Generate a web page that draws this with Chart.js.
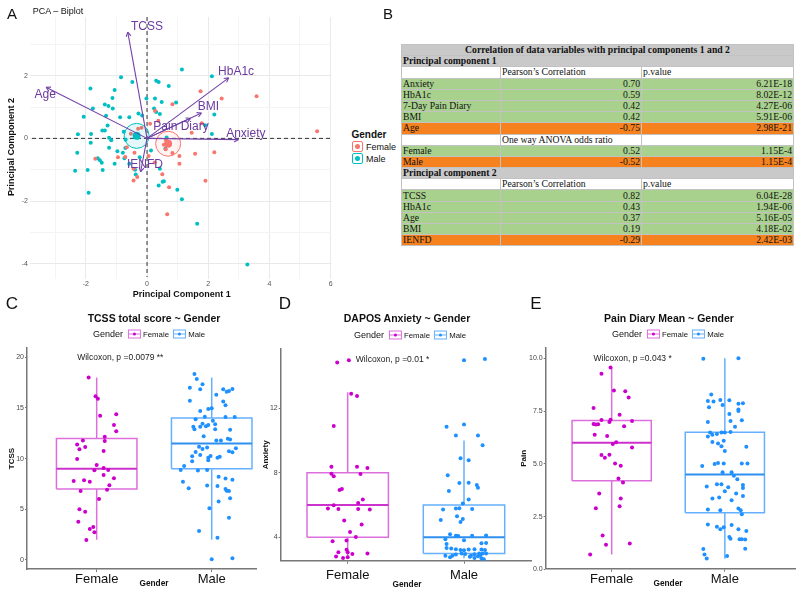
<!DOCTYPE html>
<html>
<head>
<meta charset="utf-8">
<script src="https://cdn.jsdelivr.net/npm/chart.js@4.4.1/dist/chart.umd.min.js"></script>
<style>
  body { margin:0; width:800px; height:594px; position:relative; background:#fff; overflow:hidden;
         font-family:"Liberation Sans", Arial, sans-serif; color:#111; }
  canvas { position:absolute; }
  .c { position:absolute; white-space:nowrap; transform:translate(-50%,-50%); line-height:1; }
  .let { font-size:17px; }
  .ttl { font-size:10.5px; font-weight:bold; }
  .axt { font-size:8.3px; font-weight:bold; }
  .leg { display:flex; align-items:center; font-size:7.8px; }
  .leg .g { font-size:9px; margin-right:3px; }
  .key { display:inline-block; width:11px; height:7px; border:1px solid; position:relative; margin:0 2px 0 2px; }
  .key i { position:absolute; left:4px; top:2px; width:3px; height:3px; border-radius:50%; }
  .key b { position:absolute; left:0; right:0; top:3px; height:1px; }
  .akey { display:inline-block; width:9px; height:9px; border:1px solid; border-radius:2px; position:relative; margin-right:3px; }
  .akey i { position:absolute; left:2px; top:2px; width:5px; height:5px; border-radius:50%; }
  #tbl { position:absolute; left:401px; top:44px; width:392px; border-collapse:collapse; table-layout:fixed;
         font-family:"Liberation Serif","Times New Roman",serif; font-size:9.7px; color:#111; }
  #tbl tr { height:11.2px; }
  #tbl td { padding:0 1px; line-height:10px; border:1px solid #c2c2c2; white-space:nowrap; overflow:hidden; }
</style>
</head>
<body>

<canvas id="pca" width="345" height="300" style="left:0;top:0"></canvas>
<canvas id="tcss" width="262" height="254" style="left:0;top:340px"></canvas>
<canvas id="anx" width="280" height="254" style="left:256px;top:340px"></canvas>
<canvas id="pain" width="284" height="254" style="left:516px;top:340px"></canvas>

<div class="c let" style="left:12px;top:13px;font-size:15px">A</div>
<div class="c let" style="left:388px;top:13px;font-size:15px">B</div>
<div class="c let" style="left:12px;top:303px">C</div>
<div class="c let" style="left:285px;top:303px">D</div>
<div class="c let" style="left:536px;top:303px">E</div>

<div class="c" style="left:58px;top:11px;font-size:9px">PCA – Biplot</div>

<div class="c" style="left:369px;top:135px;font-size:10px;font-weight:bold">Gender</div>
<div style="position:absolute;left:352px;top:141px;font-size:9px;display:flex;align-items:center">
  <span class="akey" style="border-color:#F8766D"><i style="background:#F8766D"></i></span>Female</div>
<div style="position:absolute;left:352px;top:153px;font-size:9px;display:flex;align-items:center">
  <span class="akey" style="border-color:#00BFC4"><i style="background:#00BFC4"></i></span>Male</div>

<table id="tbl"><colgroup><col style="width:99px"><col style="width:141px"><col style="width:152px"></colgroup><tbody id="tb"></tbody></table>

<div class="c ttl" style="left:154px;top:318px">TCSS total score ~ Gender</div>
<div class="c ttl" style="left:407px;top:318px">DAPOS Anxiety ~ Gender</div>
<div class="c ttl" style="left:669px;top:318px">Pain Diary Mean ~ Gender</div>

<div class="c leg" id="legC" style="left:149px;top:334px"></div>
<div class="c leg" id="legD" style="left:410px;top:335px"></div>
<div class="c leg" id="legE" style="left:668px;top:334px"></div>

<div class="c axt" style="left:154px;top:583px">Gender</div>
<div class="c axt" style="left:407px;top:584px">Gender</div>
<div class="c axt" style="left:668px;top:583px">Gender</div>

<script>
// ---------- Panel A: PCA scores ----------
const femalePC1 = [1.75, 2.44, 3.58, 0.83, 0.26, 0.37, 0.10, 1.79, 1.46, 5.56, -0.29, -0.53, -0.18, -0.66, 0.55, 0.61, 0.83, 1.06,
  1.57, 2.20, 0.05, -0.41, -1.69, -0.95, -0.71, 1.06, 0.25, 0.50, -0.44, -0.32, -0.44, 1.91, 0.72, 0.66, 0.72, 0.62];
const femalePC2 = [1.50, 1.27, 1.34, 1.09, 0.88, 0.56, 0.47, 0.48, 0.18, 0.23, 0.31, 0.15, 0.34, -0.28, -0.20, -0.35, -0.47, -0.56,
  -0.49, -0.44, -0.56, -0.46, -0.65, -0.60, -0.59, -0.81, -0.77, -1.14, -0.97, -1.23, -1.34, -1.35, -1.56, -2.42, -0.12, -0.06];
const malePC1 = [1.14, 2.12, -0.85, -0.48, 0.30, 0.38, 0.71, -1.85, -1.06, -1.13, -0.02, 0.26, 0.48, 0.95, -1.38, -1.26, -1.77, -1.12,
  0.23, 0.30, -0.28, 0.42, -0.16, 2.20, -2.07, -1.34, -0.88, -0.58, -1.29, 1.90, -1.46, -1.38, -0.76, -2.26, -1.83, 2.12, -1.24, -0.70,
  0.64, -1.84, -1.17, -0.40, -0.30, 0.13, 0.60, -2.28, -1.24, -0.97, -0.79, -0.71, -1.61, -1.54, -1.48, -1.06, -0.74, -0.58, -0.24,
  -0.39, -0.37, -2.35, -1.94, -1.45, -1.91, 0.42, 0.38, 0.51, 0.55, 0.99, 1.14, 1.64, 3.28];
const malePC2 = [2.20, 1.98, 1.95, 1.80, 1.84, 1.80, 1.67, 1.59, 1.54, 1.29, 1.27, 1.27, 1.16, 1.14, 1.08, 1.03, 0.95, 0.95,
  0.95, 0.84, 0.79, 0.78, 0.73, 0.76, 0.69, 0.72, 0.67, 0.67, 0.41, 0.42, 0.25, 0.25, 0.21, 0.13, 0.14, 0.14, 0.02, -0.04,
  0.03, -0.14, -0.06, 0.10, 0.02, -0.39, -0.33, -0.46, -0.30, -0.41, -0.46, -0.31, -0.63, -0.70, -0.78, -0.81, -0.63, -0.81, -0.60,
  -1.00, -1.15, -1.03, -1.01, -1.01, -1.73, -0.97, -1.50, -1.38, -1.37, -1.64, -1.94, -2.72, -4.02];
const centroidPC1 = [0.69, -0.34];   // Female, Male
const centroidPC2 = [-0.17, 0.08];

const loadingNames = ['TCSS', 'HbA1c', 'Age', 'BMI', 'Pain Diary', 'Anxiety', 'IENFD'];
const loadingPC1 = [-0.63, 2.67, -3.30, 1.78, 1.42, 2.99, -0.21];
const loadingPC2 = [3.39, 1.93, 1.63, 0.81, 0.64, -0.04, -1.07];

const pcaXTicks = [-3, -2, -1, 0, 1, 2, 3, 4, 5, 6];
const pcaYTicks = [-4, -3, -2, -1, 0, 1, 2, 3];

// ---------- Panel B: correlation table ----------
const pc1Vars = ['Anxiety', 'HbA1c', '7-Day Pain Diary', 'BMI', 'Age'];
const pc1Corr = [0.70, 0.59, 0.42, 0.42, -0.75];
const pc1P = ['6.21E-18', '8.02E-12', '4.27E-06', '5.91E-06', '2.98E-21'];
const genderVars = ['Female', 'Male'];
const genderOdds = [0.52, -0.52];
const genderP = ['1.15E-4', '1.15E-4'];
const pc2Vars = ['TCSS', 'HbA1c', 'Age', 'BMI', 'IENFD'];
const pc2Corr = [0.82, 0.43, 0.37, 0.19, -0.29];
const pc2P = ['6.04E-28', '1.94E-06', '5.16E-05', '4.18E-02', '2.42E-03'];

// ---------- Panels C-E: boxplots ----------
const genders = ['Female', 'Male'];

const tcssFemale = [18.0, 16.15, 15.9, 14.24, 14.38, 13.32, 12.7, 12.17, 11.74, 11.8, 11.4, 11.15, 10.92, 10.76, 9.97, 9.38, 9.08,
  8.88, 8.85, 8.39, 8.06, 7.8, 7.86, 7.73, 7.37, 6.94, 6.8, 6.02, 5.0, 4.77, 3.78, 3.26, 3.06, 2.73, 1.97];
const tcssFemaleJit = [-0.07, -0.01, 0.01, 0.03, 0.17, 0.15, 0.17, 0.07, 0.07, -0.12, -0.17, -0.10, -0.15, 0.06, -0.17, 0.00, 0.06,
  0.10, -0.02, 0.06, 0.15, -0.20, -0.11, -0.06, 0.11, 0.09, -0.14, 0.02, -0.15, -0.10, -0.16, -0.03, -0.06, -0.02, -0.09];
const tcssMale = [18.36, 17.86, 17.34, 17.0, 16.84, 16.84, 16.88, 16.68, 16.6, 16.3, 15.72, 15.63, 15.26, 14.9, 14.97, 14.7, 14.11,
  14.11, 14.14, 13.88, 13.75, 13.45, 13.16, 13.16, 13.2, 13.32, 13.39, 12.9, 12.86, 12.9, 12.2, 11.8, 11.8, 11.97, 11.9, 11.09, 11.02,
  10.72, 10.62, 11.18, 10.95, 10.65, 10.23, 10.36, 10.1, 10.25, 10.2, 10.1, 9.84, 9.75, 9.28, 8.88, 8.82, 8.88, 8.22, 8.03, 7.93,
  7.73, 7.34, 7.3, 7.07, 7.0, 6.84, 6.81, 6.09, 5.76, 5.1, 4.18, 2.86, 2.2, 0.07, 0.16];
const tcssMaleJit = [-0.15, -0.13, -0.08, -0.19, -0.10, 0.10, 0.18, 0.15, 0.13, 0.04, -0.19, 0.10, 0.12, -0.03, 0.00, -0.10, 0.20,
  0.12, -0.06, -0.14, 0.01, -0.08, -0.16, -0.10, -0.05, -0.03, 0.03, -0.15, 0.16, 0.03, -0.07, 0.04, 0.08, 0.14, 0.16, -0.04, 0.21,
  0.15, 0.18, -0.11, -0.08, -0.14, -0.17, -0.10, -0.03, -0.01, 0.07, 0.05, -0.03, -0.17, -0.24, -0.27, -0.12, -0.04, 0.06, 0.12, 0.18,
  -0.25, -0.04, 0.05, -0.20, 0.12, 0.13, 0.15, 0.16, 0.06, -0.02, 0.15, -0.11, 0.05, 0.00, 0.18];
const tcssFemaleBox = [2, 7, 9, 12, 18];      // lower whisker, Q1, median, Q3, upper whisker
const tcssMaleBox = [2, 9, 11.5, 14, 18];
const tcssTicks = [0, 5, 10, 15, 20];

const anxFemale = [14.85, 14.98, 12.91, 12.76, 10.9, 8.38, 8.38, 8.3, 7.95, 7.93, 7.79, 6.94, 7.0, 6.34, 6.13, 5.99, 5.78, 5.76,
  5.76, 5.72, 5.04, 4.79, 4.33, 4.02, 3.75, 3.81, 3.23, 3.08, 3.07, 2.97, 3.0, 2.81, 2.72, 2.76];
const anxFemaleJit = [-0.09, 0.01, 0.03, 0.08, -0.12, -0.14, 0.08, 0.17, -0.14, 0.11, -0.12, -0.07, -0.05, 0.13, 0.09, -0.12, -0.17,
  -0.08, 0.09, 0.19, -0.03, 0.12, 0.02, 0.07, -0.13, -0.01, -0.01, -0.08, 0.00, 0.04, 0.17, -0.10, -0.04, 0.00];
const anxMale = [14.98, 15.06, 10.86, 10.99, 10.31, 10.31, 9.71, 8.9, 8.78, 7.85, 7.37, 7.39, 7.25, 7.08, 6.88, 6.34, 6.09, 5.76,
  5.72, 5.78, 5.8, 5.31, 5.14, 5.08, 4.95, 4.19, 4.1, 4.08, 4.1, 3.88, 3.82, 4.12, 3.63, 3.65, 3.59, 3.3, 3.34, 3.26, 3.22, 3.2, 3.24,
  3.26, 3.25, 3.22, 2.95, 2.99, 3.0, 2.99, 2.97, 3.0, 2.93, 2.85, 2.85, 2.76, 2.8, 2.85, 2.72, 2.82, 2.7, 2.64, 2.9];
const anxMaleJit = [0.00, 0.18, -0.15, 0.00, -0.07, 0.12, 0.16, -0.03, 0.04, -0.14, -0.04, 0.04, 0.11, 0.12, -0.13, 0.04, -0.01, 0.07,
  -0.18, -0.07, -0.04, -0.06, -0.01, -0.20, -0.03, -0.12, -0.07, -0.05, 0.07, -0.16, 0.00, 0.19, 0.15, 0.19, -0.15, -0.11, -0.15,
  -0.07, -0.03, 0.00, 0.04, 0.09, 0.15, 0.18, 0.09, 0.13, 0.16, 0.19, 0.01, -0.02, -0.07, -0.10, -0.16, -0.12, 0.05, 0.06, 0.09, 0.12,
  0.15, 0.17, 0.14];
const anxFemaleBox = [2.8, 4, 6, 8, 13];
const anxMaleBox = [2.7, 3, 4, 6, 10];
const anxTicks = [4, 8, 12];

const painFemale = [9.57, 9.27, 8.48, 8.44, 8.14, 7.65, 7.33, 7.08, 7.09, 7.03, 6.98, 6.89, 6.87, 6.88, 6.78, 6.38, 6.32, 6.02, 5.94,
  5.77, 5.42, 5.43, 5.29, 5.01, 4.91, 4.3, 4.11, 3.59, 3.36, 2.99, 2.89, 1.6, 1.17, 1.22, 0.7];
const painFemaleJit = [-0.01, -0.09, 0.02, 0.12, 0.15, -0.16, 0.07, -0.09, -0.01, 0.18, -0.02, -0.16, -0.14, -0.12, 0.11, -0.15,
  -0.04, 0.04, 0.01, 0.18, -0.09, -0.02, -0.06, 0.03, 0.08, 0.06, 0.10, -0.11, 0.08, 0.07, -0.14, -0.08, -0.05, 0.16, -0.19];
const painMale = [9.98, 10.0, 8.29, 8.03, 8.01, 7.98, 7.96, 7.79, 7.68, 7.85, 7.87, 7.58, 7.5, 7.36, 7.06, 6.98, 7.03, 6.76, 6.48,
  6.41, 6.38, 6.29, 6.49, 6.48, 6.51, 6.03, 5.96, 6.1, 5.83, 5.61, 5.81, 4.9, 4.99, 5.04, 5.02, 5.02, 5.02, 4.6, 4.6, 4.44, 4.27, 4.0,
  3.93, 4.03, 4.03, 3.89, 3.85, 3.7, 3.59, 3.48, 3.36, 3.41, 3.27, 2.84, 2.8, 2.88, 2.8, 2.61, 2.12, 2.02, 1.99, 1.9, 2.1, 1.9, 1.82,
  1.53, 1.45, 1.42, 1.42, 1.41, 0.96, 0.98, 0.7, 0.51, 0.63];
const painMaleJit = [-0.19, 0.12, -0.12, -0.04, 0.04, -0.15, -0.10, -0.02, -0.14, 0.12, 0.16, 0.12, 0.12, 0.04, 0.15, -0.15, 0.05,
  0.09, -0.13, -0.07, -0.11, -0.15, -0.03, 0.00, 0.05, -0.11, -0.06, -0.01, -0.03, 0.00, 0.19, -0.20, -0.09, -0.06, -0.01, 0.15, 0.20,
  -0.02, 0.06, 0.08, 0.11, 0.16, -0.16, -0.07, -0.03, 0.03, 0.16, 0.00, 0.10, 0.16, -0.11, -0.05, 0.06, -0.15, -0.04, 0.12, 0.14, 0.15,
  -0.15, -0.07, -0.01, -0.04, 0.06, 0.12, 0.19, 0.04, 0.05, 0.13, 0.15, 0.18, -0.19, 0.18, -0.18, -0.16, 0.02];
const painFemaleBox = [0.7, 4.2, 6.0, 7.05, 9.55];
const painMaleBox = [0.5, 2.68, 4.5, 6.5, 10];
const painTicks = [0, 2.5, 5, 7.5, 10];

// ---------- styling ----------
Chart.defaults.font.family = '"Liberation Sans", Arial, sans-serif';
const RED = '#F8766D', TEAL = '#00BFC4', PURPLE = '#7442a8';
const F_PT = '#cc00cc', M_PT = '#1e90ff';
const F_LINE = '#dd6fdd', M_LINE = '#66b0ff';
const F_MID = '#cc33cc', M_MID = '#2f8fef';

// ---------- table ----------
const GREEN = '#a9d18e', ORANGE = '#f5821f', GREY = '#c9c9c9';
let html = '';
const band = (t, bold, center) => `<tr style="background:${GREY}"><td colspan="3" style="${bold ? 'font-weight:bold;' : ''}text-align:${center ? 'center' : 'left'}">${t}</td></tr>`;
const head = (a, b) => `<tr><td></td><td>${a}</td><td>${b}</td></tr>`;
const rows = (names, vals, ps) => names.map((n, i) =>
  `<tr style="background:${vals[i] >= 0 ? GREEN : ORANGE}"><td>${n}</td><td style="text-align:right">${vals[i].toFixed(2)}</td><td style="text-align:right">${ps[i]}</td></tr>`).join('');
html += band('Correlation of data variables with principal components 1 and 2', true, true);
html += band('Principal component 1', true, false);
html += head('Pearson’s Correlation', 'p.value');
html += rows(pc1Vars, pc1Corr, pc1P);
html += head('One way ANOVA odds ratio', '');
html += rows(genderVars, genderOdds, genderP);
html += band('Principal component 2', true, false);
html += head('Pearson’s Correlation', 'p.value');
html += rows(pc2Vars, pc2Corr, pc2P);
document.getElementById('tb').innerHTML = html;

// ---------- boxplot legends ----------
const legHtml = '<span class="g">Gender</span>' +
  `<span class="key" style="border-color:${F_LINE}"><b style="background:${F_LINE}"></b><i style="background:${F_PT}"></i></span>${genders[0]}&nbsp;` +
  `<span class="key" style="border-color:${M_LINE}"><b style="background:${M_LINE}"></b><i style="background:${M_PT}"></i></span>${genders[1]}`;
['legC', 'legD', 'legE'].forEach(id => document.getElementById(id).innerHTML = legHtml);

// ---------- panel A ----------
const biplotDecor = {
  id: 'biplotDecor',
  beforeDatasetsDraw(chart) {
    const { ctx, chartArea: a, scales: { x, y } } = chart;
    ctx.save();
    ctx.setLineDash([4, 3]);
    ctx.strokeStyle = '#333';
    ctx.lineWidth = 1;
    ctx.beginPath();
    ctx.moveTo(x.getPixelForValue(0), a.top); ctx.lineTo(x.getPixelForValue(0), a.bottom);
    ctx.moveTo(a.left, y.getPixelForValue(0)); ctx.lineTo(a.right, y.getPixelForValue(0));
    ctx.stroke();
    ctx.restore();
  },
  afterDatasetsDraw(chart, args, opts) {
    const { ctx, scales: { x, y } } = chart;
    ctx.save();
    ctx.strokeStyle = PURPLE;
    ctx.lineWidth = 1.1;
    chart.data.datasets.forEach((ds, di) => {
      if (!ds.arrow) return;
      const [p0, p1] = chart.getDatasetMeta(di).data;
      const ang = Math.atan2(p1.y - p0.y, p1.x - p0.x);
      ctx.beginPath();
      for (const s of [-0.5, 0.5]) {
        ctx.moveTo(p1.x, p1.y);
        ctx.lineTo(p1.x - 5 * Math.cos(ang + s), p1.y - 5 * Math.sin(ang + s));
      }
      ctx.stroke();
    });
    ctx.fillStyle = '#6a3a9e';
    ctx.font = '12px "Liberation Sans", Arial, sans-serif';
    ctx.textAlign = 'center';
    ctx.textBaseline = 'middle';
    loadingNames.forEach((n, i) => {
      ctx.fillText(n, x.getPixelForValue(opts.labelX[i]), y.getPixelForValue(opts.labelY[i]));
    });
    ctx.restore();
  }
};

const arrowSets = loadingNames.map((n, i) => ({
  label: n, arrow: true, showLine: true, pointRadius: 0, borderColor: PURPLE, borderWidth: 1.1,
  data: [{ x: 0, y: 0 }, { x: loadingPC1[i], y: loadingPC2[i] }]
}));

new Chart(document.getElementById('pca'), {
  type: 'scatter',
  data: {
    datasets: [
      ...arrowSets,
      { label: 'centroid', data: centroidPC1.map((v, i) => ({ x: v, y: centroidPC2[i] })),
        pointRadius: 4, backgroundColor: [RED, TEAL], borderWidth: 0 },
      { label: 'ellipse', data: centroidPC1.map((v, i) => ({ x: v, y: centroidPC2[i] })),
        pointRadius: 12.5, backgroundColor: ['rgba(248,118,109,0.08)', 'rgba(0,191,196,0.1)'], borderColor: [RED, TEAL], borderWidth: 1 },
      { label: 'Female', data: femalePC1.map((v, i) => ({ x: v, y: femalePC2[i] })), pointRadius: 2, backgroundColor: RED, borderWidth: 0 },
      { label: 'Male', data: malePC1.map((v, i) => ({ x: v, y: malePC2[i] })), pointRadius: 2, backgroundColor: TEAL, borderWidth: 0 }
    ]
  },
  options: {
    responsive: false, animation: false, events: [],
    layout: { padding: { top: 17, right: 5 } },
    plugins: {
      legend: { display: false }, tooltip: { enabled: false },
      biplotDecor: {
        labelX: [0.0, 2.91, -3.33, 2.01, 1.11, 3.23, -0.07],
        labelY: [3.57, 2.14, 1.39, 1.0, 0.36, 0.15, -0.84]
      }
    },
    scales: {
      x: {
        type: 'linear', min: -3.76, max: 6.03,
        afterBuildTicks: s => { s.ticks = pcaXTicks.map(v => ({ value: v })); },
        afterFit: s => { s.height = 23; },
        ticks: { callback: v => (v % 2 === 0 ? v : ''), font: { size: 7 }, color: '#555', padding: 1, autoSkip: false, maxRotation: 0 },
        grid: { color: c => (c.tick && c.tick.value % 2 ? '#f4f4f4' : '#e9e9e9'), tickLength: 2 },
        border: { display: false },
        title: { display: true, text: 'Principal Component 1', font: { size: 9, weight: 'bold' }, color: '#111', padding: { top: 0, bottom: 0 } }
      },
      y: {
        type: 'linear', min: -4.42, max: 3.87,
        afterBuildTicks: s => { s.ticks = pcaYTicks.map(v => ({ value: v })); },
        afterFit: s => { s.width = 32; },
        ticks: { callback: v => (v % 2 === 0 ? v : ''), font: { size: 7 }, color: '#555', padding: 2, autoSkip: false },
        grid: { color: c => (c.tick && c.tick.value % 2 ? '#f4f4f4' : '#e9e9e9'), tickLength: 2 },
        border: { display: false },
        title: { display: true, text: 'Principal Component 2', font: { size: 9, weight: 'bold' }, color: '#111', padding: { top: 6, bottom: 0 } }
      }
    }
  },
  plugins: [biplotDecor]
});

// ---------- panels C-E ----------
const noteText = {
  id: 'noteText',
  afterDatasetsDraw(chart, args, opts) {
    const { ctx, scales: { x, y } } = chart;
    ctx.save();
    ctx.font = '8.5px "Liberation Sans", Arial, sans-serif';
    ctx.fillStyle = '#222';
    ctx.textAlign = 'left';
    ctx.textBaseline = 'middle';
    ctx.fillText(opts.text, x.getPixelForValue(opts.x), y.getPixelForValue(opts.y));
    ctx.restore();
  }
};

const pts = (vals, jit, cat) => vals.map((v, i) => ({ x: cat + jit[i], y: v }));
const seg = (data, color, w) => ({ data, showLine: true, pointRadius: 0, borderColor: color, borderWidth: w, fill: false });

function boxSets(stats, cat, line, mid) {
  const [lo, q1, med, q3, hi] = stats;
  const h = 0.35;
  return [
    seg([{ x: cat - h, y: med }, { x: cat + h, y: med }], mid, 2),
    seg([{ x: cat - h, y: q1 }, { x: cat + h, y: q1 }, { x: cat + h, y: q3 }, { x: cat - h, y: q3 }, { x: cat - h, y: q1 }], line, 1.5),
    seg([{ x: cat, y: lo }, { x: cat, y: q1 }], line, 1.5),
    seg([{ x: cat, y: q3 }, { x: cat, y: hi }], line, 1.5)
  ];
}

function boxChart(id, o) {
  return new Chart(document.getElementById(id), {
    type: 'scatter',
    data: {
      datasets: [
        { data: pts(o.fVals, o.fJit, 1), pointRadius: 2, backgroundColor: F_PT, borderWidth: 0 },
        { data: pts(o.mVals, o.mJit, 2), pointRadius: 2, backgroundColor: M_PT, borderWidth: 0 },
        ...boxSets(o.fBox, 1, F_LINE, F_MID),
        ...boxSets(o.mBox, 2, M_LINE, M_MID)
      ]
    },
    options: {
      responsive: false, animation: false, events: [],
      layout: { padding: { top: o.padTop, right: o.padRight } },
      plugins: { legend: { display: false }, tooltip: { enabled: false }, noteText: o.note },
      scales: {
        x: {
          type: 'linear', min: o.xMin, max: o.xMax,
          afterBuildTicks: s => { s.ticks = [{ value: 1 }, { value: 2 }]; },
          afterFit: s => { s.height = o.xH; },
          ticks: { callback: v => genders[v - 1], font: { size: 13 }, color: '#111', padding: o.xPad, autoSkip: false, maxRotation: 0 },
          grid: { drawOnChartArea: false, tickLength: 3, tickColor: '#777' },
          border: { color: '#777', width: 1.5 }
        },
        y: {
          type: 'linear', min: o.yMin, max: o.yMax,
          afterBuildTicks: s => { s.ticks = o.yTicks.map(v => ({ value: v })); },
          afterFit: s => { s.width = o.yW; },
          ticks: { callback: o.fmt, font: { size: 7 }, color: '#444', padding: 1, autoSkip: false },
          grid: { drawOnChartArea: false, tickLength: 2, tickColor: '#777' },
          border: { color: '#777', width: 1.5 },
          title: { display: true, text: o.yTitle, font: { size: 8, weight: 'bold' }, color: '#111', padding: { top: o.yTitlePad, bottom: 0 } }
        }
      }
    },
    plugins: [noteText]
  });
}

boxChart('tcss', {
  fVals: tcssFemale, fJit: tcssFemaleJit, mVals: tcssMale, mJit: tcssMaleJit, fBox: tcssFemaleBox, mBox: tcssMaleBox,
  yTicks: tcssTicks, fmt: v => v, yMin: -0.89, yMax: 20.92, xMin: 0.394, xMax: 2.385,
  padTop: 8, padRight: 6, xH: 25, yW: 27, xPad: 0, yTitle: 'TCSS', yTitlePad: 7,
  note: { text: 'Wilcoxon, p =0.0079 **', x: 0.83, y: 20 }
});
boxChart('anx', {
  fVals: anxFemale, fJit: anxFemaleJit, mVals: anxMale, mJit: anxMaleJit, fBox: anxFemaleBox, mBox: anxMaleBox,
  yTicks: anxTicks, fmt: v => v, yMin: 2.55, yMax: 15.68, xMin: 0.424, xMax: 2.576,
  padTop: 9, padRight: 5, xH: 33.3, yW: 24.7, xPad: 4, yTitle: 'Anxiety', yTitlePad: 5,
  note: { text: 'Wilcoxon, p =0.01 *', x: 1.07, y: 15 }
});
boxChart('pain', {
  fVals: painFemale, fJit: painFemaleJit, mVals: painMale, mJit: painMaleJit, fBox: painFemaleBox, mBox: painMaleBox,
  yTicks: painTicks, fmt: v => v.toFixed(1), yMin: 0.03, yMax: 10.49, xMin: 0.417, xMax: 2.62,
  padTop: 8, padRight: 5, xH: 25.3, yW: 29.7, xPad: 0, yTitle: 'Pain', yTitlePad: 3,
  note: { text: 'Wilcoxon, p =0.043 *', x: 0.84, y: 10 }
});
</script>
</body>
</html>
